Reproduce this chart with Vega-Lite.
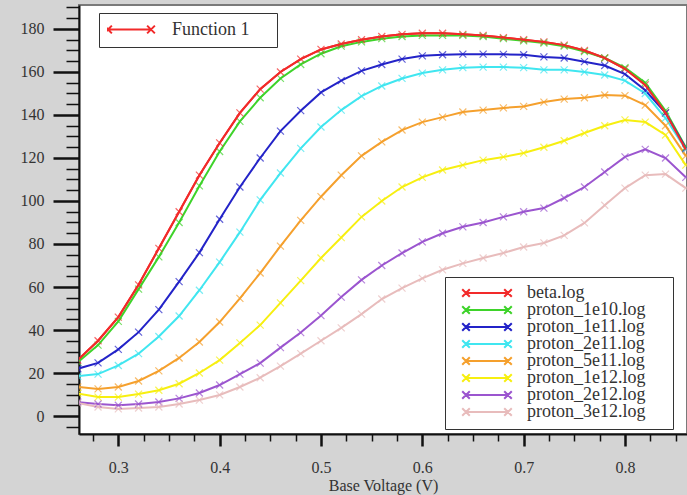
{
  "$schema": "https://vega.github.io/schema/vega-lite/v6.json",
  "autosize": "none",
  "width": 608,
  "height": 429,
  "padding": {"left": 79, "top": 5, "right": 0, "bottom": 61},
  "background": "#d4d4d4",
  "config": {
    "view": {"fill": "white", "stroke": "#7a7a7a", "strokeWidth": 2},
    "font": "Liberation Serif",
    "axis": {
      "domainColor": "#111",
      "domainWidth": 2,
      "tickColor": "#111",
      "labelFont": "Liberation Serif",
      "labelFontSize": 16,
      "labelColor": "#333",
      "titleFont": "Liberation Serif",
      "titleFontSize": 16,
      "titleFontWeight": "normal",
      "titleColor": "#333",
      "grid": false,
      "labelOverlap": false
    }
  },
  "datasets": {
    "curves": [
      {"v":0.26,"series":"beta.log","y":26},{"v":0.28,"series":"beta.log","y":35},{"v":0.30,"series":"beta.log","y":46},{"v":0.32,"series":"beta.log","y":61},{"v":0.34,"series":"beta.log","y":78},{"v":0.36,"series":"beta.log","y":95},{"v":0.38,"series":"beta.log","y":112},{"v":0.40,"series":"beta.log","y":127},{"v":0.42,"series":"beta.log","y":141},{"v":0.44,"series":"beta.log","y":152},{"v":0.46,"series":"beta.log","y":160},{"v":0.48,"series":"beta.log","y":166},{"v":0.50,"series":"beta.log","y":170.5},{"v":0.52,"series":"beta.log","y":173},{"v":0.54,"series":"beta.log","y":175},{"v":0.56,"series":"beta.log","y":176.5},{"v":0.58,"series":"beta.log","y":177.5},{"v":0.60,"series":"beta.log","y":178},{"v":0.62,"series":"beta.log","y":178},{"v":0.64,"series":"beta.log","y":177.5},{"v":0.66,"series":"beta.log","y":177},{"v":0.68,"series":"beta.log","y":176},{"v":0.70,"series":"beta.log","y":175},{"v":0.72,"series":"beta.log","y":174},{"v":0.74,"series":"beta.log","y":172.5},{"v":0.76,"series":"beta.log","y":170},{"v":0.78,"series":"beta.log","y":166.5},{"v":0.80,"series":"beta.log","y":161.5},{"v":0.82,"series":"beta.log","y":154},{"v":0.84,"series":"beta.log","y":141},{"v":0.86,"series":"beta.log","y":124},
      {"v":0.26,"series":"proton_1e10.log","y":25},{"v":0.28,"series":"proton_1e10.log","y":33},{"v":0.30,"series":"proton_1e10.log","y":44},{"v":0.32,"series":"proton_1e10.log","y":59},{"v":0.34,"series":"proton_1e10.log","y":74},{"v":0.36,"series":"proton_1e10.log","y":90},{"v":0.38,"series":"proton_1e10.log","y":107},{"v":0.40,"series":"proton_1e10.log","y":123},{"v":0.42,"series":"proton_1e10.log","y":137},{"v":0.44,"series":"proton_1e10.log","y":148},{"v":0.46,"series":"proton_1e10.log","y":157},{"v":0.48,"series":"proton_1e10.log","y":163.5},{"v":0.50,"series":"proton_1e10.log","y":168.5},{"v":0.52,"series":"proton_1e10.log","y":172},{"v":0.54,"series":"proton_1e10.log","y":174},{"v":0.56,"series":"proton_1e10.log","y":175.5},{"v":0.58,"series":"proton_1e10.log","y":176.5},{"v":0.60,"series":"proton_1e10.log","y":177},{"v":0.62,"series":"proton_1e10.log","y":177},{"v":0.64,"series":"proton_1e10.log","y":177},{"v":0.66,"series":"proton_1e10.log","y":176.5},{"v":0.68,"series":"proton_1e10.log","y":175.5},{"v":0.70,"series":"proton_1e10.log","y":174.5},{"v":0.72,"series":"proton_1e10.log","y":173.5},{"v":0.74,"series":"proton_1e10.log","y":172},{"v":0.76,"series":"proton_1e10.log","y":169.5},{"v":0.78,"series":"proton_1e10.log","y":166.5},{"v":0.80,"series":"proton_1e10.log","y":162},{"v":0.82,"series":"proton_1e10.log","y":155},{"v":0.84,"series":"proton_1e10.log","y":142},{"v":0.86,"series":"proton_1e10.log","y":125},
      {"v":0.26,"series":"proton_1e11.log","y":22},{"v":0.28,"series":"proton_1e11.log","y":24.7},{"v":0.30,"series":"proton_1e11.log","y":31},{"v":0.32,"series":"proton_1e11.log","y":39},{"v":0.34,"series":"proton_1e11.log","y":49.5},{"v":0.36,"series":"proton_1e11.log","y":62.5},{"v":0.38,"series":"proton_1e11.log","y":76},{"v":0.40,"series":"proton_1e11.log","y":91.5},{"v":0.42,"series":"proton_1e11.log","y":106.5},{"v":0.44,"series":"proton_1e11.log","y":120},{"v":0.46,"series":"proton_1e11.log","y":132.5},{"v":0.48,"series":"proton_1e11.log","y":142},{"v":0.50,"series":"proton_1e11.log","y":150.5},{"v":0.52,"series":"proton_1e11.log","y":156},{"v":0.54,"series":"proton_1e11.log","y":160.5},{"v":0.56,"series":"proton_1e11.log","y":163.5},{"v":0.58,"series":"proton_1e11.log","y":166},{"v":0.60,"series":"proton_1e11.log","y":167.5},{"v":0.62,"series":"proton_1e11.log","y":168},{"v":0.64,"series":"proton_1e11.log","y":168.3},{"v":0.66,"series":"proton_1e11.log","y":168.3},{"v":0.68,"series":"proton_1e11.log","y":168.2},{"v":0.70,"series":"proton_1e11.log","y":168},{"v":0.72,"series":"proton_1e11.log","y":167},{"v":0.74,"series":"proton_1e11.log","y":166.5},{"v":0.76,"series":"proton_1e11.log","y":164.8},{"v":0.78,"series":"proton_1e11.log","y":163},{"v":0.80,"series":"proton_1e11.log","y":159},{"v":0.82,"series":"proton_1e11.log","y":151.5},{"v":0.84,"series":"proton_1e11.log","y":141},{"v":0.86,"series":"proton_1e11.log","y":124.5},
      {"v":0.26,"series":"proton_2e11.log","y":18.5},{"v":0.28,"series":"proton_2e11.log","y":19.5},{"v":0.30,"series":"proton_2e11.log","y":23.5},{"v":0.32,"series":"proton_2e11.log","y":29},{"v":0.34,"series":"proton_2e11.log","y":37},{"v":0.36,"series":"proton_2e11.log","y":46.5},{"v":0.38,"series":"proton_2e11.log","y":58.5},{"v":0.40,"series":"proton_2e11.log","y":71.6},{"v":0.42,"series":"proton_2e11.log","y":85.5},{"v":0.44,"series":"proton_2e11.log","y":100.5},{"v":0.46,"series":"proton_2e11.log","y":113},{"v":0.48,"series":"proton_2e11.log","y":124.5},{"v":0.50,"series":"proton_2e11.log","y":134.4},{"v":0.52,"series":"proton_2e11.log","y":142.3},{"v":0.54,"series":"proton_2e11.log","y":148.8},{"v":0.56,"series":"proton_2e11.log","y":153.5},{"v":0.58,"series":"proton_2e11.log","y":157},{"v":0.60,"series":"proton_2e11.log","y":159.5},{"v":0.62,"series":"proton_2e11.log","y":161},{"v":0.64,"series":"proton_2e11.log","y":162},{"v":0.66,"series":"proton_2e11.log","y":162.3},{"v":0.68,"series":"proton_2e11.log","y":162.3},{"v":0.70,"series":"proton_2e11.log","y":162},{"v":0.72,"series":"proton_2e11.log","y":161},{"v":0.74,"series":"proton_2e11.log","y":161},{"v":0.76,"series":"proton_2e11.log","y":160},{"v":0.78,"series":"proton_2e11.log","y":158.6},{"v":0.80,"series":"proton_2e11.log","y":156},{"v":0.82,"series":"proton_2e11.log","y":150},{"v":0.84,"series":"proton_2e11.log","y":138.6},{"v":0.86,"series":"proton_2e11.log","y":124},
      {"v":0.26,"series":"proton_5e11.log","y":13.5},{"v":0.28,"series":"proton_5e11.log","y":12.6},{"v":0.30,"series":"proton_5e11.log","y":13.5},{"v":0.32,"series":"proton_5e11.log","y":16.3},{"v":0.34,"series":"proton_5e11.log","y":21},{"v":0.36,"series":"proton_5e11.log","y":27},{"v":0.38,"series":"proton_5e11.log","y":34.4},{"v":0.40,"series":"proton_5e11.log","y":43.7},{"v":0.42,"series":"proton_5e11.log","y":54.7},{"v":0.44,"series":"proton_5e11.log","y":66.5},{"v":0.46,"series":"proton_5e11.log","y":79},{"v":0.48,"series":"proton_5e11.log","y":91},{"v":0.50,"series":"proton_5e11.log","y":102},{"v":0.52,"series":"proton_5e11.log","y":112},{"v":0.54,"series":"proton_5e11.log","y":121},{"v":0.56,"series":"proton_5e11.log","y":127.5},{"v":0.58,"series":"proton_5e11.log","y":133},{"v":0.60,"series":"proton_5e11.log","y":136.7},{"v":0.62,"series":"proton_5e11.log","y":139},{"v":0.64,"series":"proton_5e11.log","y":141.4},{"v":0.66,"series":"proton_5e11.log","y":142.3},{"v":0.68,"series":"proton_5e11.log","y":143.3},{"v":0.70,"series":"proton_5e11.log","y":144},{"v":0.72,"series":"proton_5e11.log","y":146},{"v":0.74,"series":"proton_5e11.log","y":147.4},{"v":0.76,"series":"proton_5e11.log","y":148},{"v":0.78,"series":"proton_5e11.log","y":149.3},{"v":0.80,"series":"proton_5e11.log","y":149},{"v":0.82,"series":"proton_5e11.log","y":144.6},{"v":0.84,"series":"proton_5e11.log","y":135},{"v":0.86,"series":"proton_5e11.log","y":121},
      {"v":0.26,"series":"proton_1e12.log","y":10.5},{"v":0.28,"series":"proton_1e12.log","y":8.8},{"v":0.30,"series":"proton_1e12.log","y":8.8},{"v":0.32,"series":"proton_1e12.log","y":10.2},{"v":0.34,"series":"proton_1e12.log","y":12},{"v":0.36,"series":"proton_1e12.log","y":15},{"v":0.38,"series":"proton_1e12.log","y":20},{"v":0.40,"series":"proton_1e12.log","y":26},{"v":0.42,"series":"proton_1e12.log","y":34},{"v":0.44,"series":"proton_1e12.log","y":42.3},{"v":0.46,"series":"proton_1e12.log","y":52.6},{"v":0.48,"series":"proton_1e12.log","y":63},{"v":0.50,"series":"proton_1e12.log","y":73.5},{"v":0.52,"series":"proton_1e12.log","y":83},{"v":0.54,"series":"proton_1e12.log","y":92.6},{"v":0.56,"series":"proton_1e12.log","y":100},{"v":0.58,"series":"proton_1e12.log","y":106.5},{"v":0.60,"series":"proton_1e12.log","y":111},{"v":0.62,"series":"proton_1e12.log","y":114.4},{"v":0.64,"series":"proton_1e12.log","y":116.7},{"v":0.66,"series":"proton_1e12.log","y":119},{"v":0.68,"series":"proton_1e12.log","y":120.5},{"v":0.70,"series":"proton_1e12.log","y":122.3},{"v":0.72,"series":"proton_1e12.log","y":125},{"v":0.74,"series":"proton_1e12.log","y":128},{"v":0.76,"series":"proton_1e12.log","y":131.6},{"v":0.78,"series":"proton_1e12.log","y":135},{"v":0.80,"series":"proton_1e12.log","y":137.7},{"v":0.82,"series":"proton_1e12.log","y":136.7},{"v":0.84,"series":"proton_1e12.log","y":130.7},{"v":0.86,"series":"proton_1e12.log","y":116.7},
      {"v":0.26,"series":"proton_2e12.log","y":6.5},{"v":0.28,"series":"proton_2e12.log","y":5.6},{"v":0.30,"series":"proton_2e12.log","y":5},{"v":0.32,"series":"proton_2e12.log","y":5.6},{"v":0.34,"series":"proton_2e12.log","y":6.5},{"v":0.36,"series":"proton_2e12.log","y":8.2},{"v":0.38,"series":"proton_2e12.log","y":10.7},{"v":0.40,"series":"proton_2e12.log","y":14.4},{"v":0.42,"series":"proton_2e12.log","y":19.5},{"v":0.44,"series":"proton_2e12.log","y":24.6},{"v":0.46,"series":"proton_2e12.log","y":31.8},{"v":0.48,"series":"proton_2e12.log","y":38.8},{"v":0.50,"series":"proton_2e12.log","y":46.7},{"v":0.52,"series":"proton_2e12.log","y":55.3},{"v":0.54,"series":"proton_2e12.log","y":63.3},{"v":0.56,"series":"proton_2e12.log","y":70},{"v":0.58,"series":"proton_2e12.log","y":75.8},{"v":0.60,"series":"proton_2e12.log","y":81},{"v":0.62,"series":"proton_2e12.log","y":85},{"v":0.64,"series":"proton_2e12.log","y":88},{"v":0.66,"series":"proton_2e12.log","y":90},{"v":0.68,"series":"proton_2e12.log","y":92.6},{"v":0.70,"series":"proton_2e12.log","y":95},{"v":0.72,"series":"proton_2e12.log","y":96.7},{"v":0.74,"series":"proton_2e12.log","y":101.4},{"v":0.76,"series":"proton_2e12.log","y":106.5},{"v":0.78,"series":"proton_2e12.log","y":113.5},{"v":0.80,"series":"proton_2e12.log","y":120.5},{"v":0.82,"series":"proton_2e12.log","y":124},{"v":0.84,"series":"proton_2e12.log","y":120},{"v":0.86,"series":"proton_2e12.log","y":111},
      {"v":0.26,"series":"proton_3e12.log","y":6},{"v":0.28,"series":"proton_3e12.log","y":4.2},{"v":0.30,"series":"proton_3e12.log","y":3.3},{"v":0.32,"series":"proton_3e12.log","y":3.7},{"v":0.34,"series":"proton_3e12.log","y":4.2},{"v":0.36,"series":"proton_3e12.log","y":5.6},{"v":0.38,"series":"proton_3e12.log","y":7.4},{"v":0.40,"series":"proton_3e12.log","y":9.8},{"v":0.42,"series":"proton_3e12.log","y":13.5},{"v":0.44,"series":"proton_3e12.log","y":17.8},{"v":0.46,"series":"proton_3e12.log","y":23.2},{"v":0.48,"series":"proton_3e12.log","y":29},{"v":0.50,"series":"proton_3e12.log","y":35},{"v":0.52,"series":"proton_3e12.log","y":41},{"v":0.54,"series":"proton_3e12.log","y":47.4},{"v":0.56,"series":"proton_3e12.log","y":54.4},{"v":0.58,"series":"proton_3e12.log","y":59.5},{"v":0.60,"series":"proton_3e12.log","y":64},{"v":0.62,"series":"proton_3e12.log","y":68},{"v":0.64,"series":"proton_3e12.log","y":71},{"v":0.66,"series":"proton_3e12.log","y":73.5},{"v":0.68,"series":"proton_3e12.log","y":75.8},{"v":0.70,"series":"proton_3e12.log","y":78.6},{"v":0.72,"series":"proton_3e12.log","y":80.5},{"v":0.74,"series":"proton_3e12.log","y":84},{"v":0.76,"series":"proton_3e12.log","y":89.8},{"v":0.78,"series":"proton_3e12.log","y":98},{"v":0.80,"series":"proton_3e12.log","y":106},{"v":0.82,"series":"proton_3e12.log","y":112},{"v":0.84,"series":"proton_3e12.log","y":112.5},{"v":0.86,"series":"proton_3e12.log","y":106}
    ]
  },
  "encoding": {
    "x": {
      "field": "v", "type": "quantitative",
      "scale": {"domain": [0.2612, 0.8612], "nice": false, "zero": false},
      "axis": {
        "title": "Base Voltage (V)",
        "values": [0.275,0.3,0.325,0.35,0.375,0.4,0.425,0.45,0.475,0.5,0.525,0.55,0.575,0.6,0.625,0.65,0.675,0.7,0.725,0.75,0.775,0.8,0.825,0.85],
        "format": ".1f",
        "labelExpr": "abs(datum.value*10 - round(datum.value*10)) < 0.001 ? datum.label : ''",
        "tickSize": {"condition": {"test": "abs(datum.value*10 - round(datum.value*10)) < 0.001", "value": 12}, "value": 7},
        "tickWidth": {"condition": {"test": "abs(datum.value*10 - round(datum.value*10)) < 0.001", "value": 2.5}, "value": 1.5},
        "labelPadding": 13,
        "titlePadding": 2
      }
    },
    "y": {
      "field": "y", "type": "quantitative",
      "scale": {"domain": [-8.37, 191.16], "nice": false, "zero": false},
      "axis": {
        "title": null,
        "values": [-5,0,5,10,15,20,25,30,35,40,45,50,55,60,65,70,75,80,85,90,95,100,105,110,115,120,125,130,135,140,145,150,155,160,165,170,175,180,185,190],
        "labelExpr": "datum.value % 20 === 0 ? datum.label : ''",
        "tickSize": {"condition": {"test": "datum.value % 20 === 0", "value": 26}, "value": 13},
        "tickWidth": {"condition": {"test": "datum.value % 20 === 0", "value": 2.5}, "value": 1.5},
        "labelPadding": 9
      }
    }
  },
  "layer": [
    {
      "data": {"name": "curves"},
      "mark": {"type": "line", "strokeWidth": 2, "clip": true},
      "encoding": {
        "color": {
          "field": "series", "type": "nominal",
          "scale": {
            "domain": ["beta.log","proton_1e10.log","proton_1e11.log","proton_2e11.log","proton_5e11.log","proton_1e12.log","proton_2e12.log","proton_3e12.log"],
            "range": ["#f22a2a","#3ed32a","#2323c8","#40e6f0","#f5a02d","#f7ef10","#9b55cf","#e8bcbc"]
          },
          "legend": {
            "title": "\u00a0",
            "titleOrient": "right",
            "titlePadding": 20,
            "titleFontSize": 16,
            "orient": "none",
            "legendX": 366,
            "legendY": 272,
            "symbolType": "M-1,0L1,0M-1.18,-0.18L-0.82,0.18M-1.18,0.18L-0.82,-0.18M0.82,-0.18L1.18,0.18M0.82,0.18L1.18,-0.18",
            "symbolSize": 1764,
            "symbolStrokeWidth": 2,
            "symbolOffset": 12,
            "clipHeight": 16,
            "rowPadding": -2,
            "labelFont": "Liberation Serif",
            "labelFontSize": 18,
            "labelColor": "#333",
            "labelOffset": 18,
            "labelLimit": 0,
            "strokeColor": "#333",
            "fillColor": "white",
            "padding": 8
          }
        }
      }
    },
    {
      "data": {"name": "curves"},
      "mark": {"type": "point", "shape": "M-1,-1L1,1M-1,1L1,-1", "size": 49, "filled": false, "strokeWidth": 1.2, "clip": true},
      "encoding": {
        "color": {
          "field": "series", "type": "nominal",
          "scale": {
            "domain": ["beta.log","proton_1e10.log","proton_1e11.log","proton_2e11.log","proton_5e11.log","proton_1e12.log","proton_2e12.log","proton_3e12.log"],
            "range": ["#f22a2a","#3ed32a","#2323c8","#40e6f0","#f5a02d","#f7ef10","#9b55cf","#e8bcbc"]
          },
          "legend": null
        }
      }
    },
    {
      "data": {"name": "curves"},
      "transform": [{"filter": "datum.series === 'beta.log'"}],
      "mark": {"type": "line", "strokeWidth": 2, "clip": true},
      "encoding": {
        "color": {
          "datum": "Function 1",
          "scale": {"domain": ["Function 1"], "range": ["#f22a2a"]},
          "legend": {
            "title": "\u00a0",
            "titleOrient": "right",
            "titlePadding": 19,
            "titleFontSize": 16,
            "orient": "none",
            "legendX": 20,
            "legendY": 8,
            "symbolType": "M-1,0L1,0M-1.18,-0.18L-0.82,0.18M-1.18,0.18L-0.82,-0.18M0.82,-0.18L1.18,0.18M0.82,0.18L1.18,-0.18",
            "symbolSize": 1849,
            "symbolStrokeWidth": 2,
            "clipHeight": 17,
            "labelFont": "Liberation Serif",
            "labelFontSize": 18,
            "labelColor": "#333",
            "labelOffset": 20,
            "labelLimit": 0,
            "strokeColor": "#333",
            "fillColor": "white",
            "padding": 8
          }
        }
      }
    }
  ],
  "resolve": {"scale": {"color": "independent"}, "legend": {"color": "independent"}}
}
